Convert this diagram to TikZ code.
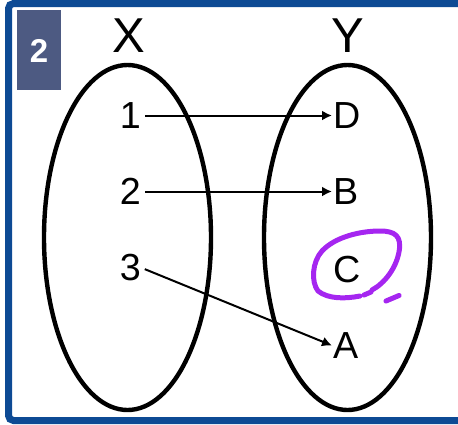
\documentclass[tikz,border=0pt]{standalone}
\usepackage{fontspec}
\setmainfont{Liberation Sans}
\usepackage{tikz}
\usetikzlibrary{arrows.meta}
\definecolor{framebl}{HTML}{0D4A94}
\definecolor{tagslate}{HTML}{4D5A82}
\definecolor{penpurple}{HTML}{A526F0}

\begin{document}
\begin{tikzpicture}[x=1pt,y=-1pt,
    setname/.style={font=\fontsize{49}{49}\selectfont,inner sep=0pt},
    elem/.style={font=\fontsize{37.7}{38}\selectfont,inner sep=1pt},
    mapto/.style={-{Latex[length=10pt,width=10pt]},line width=2pt,shorten <=3pt},
    setring/.style={line width=4.4pt}]
  \useasboundingbox (0,0) rectangle (458,424);
  % frame of the slide, running off at the right
  \draw[framebl,line width=7pt,rounded corners=5pt] (480,3.5) -- (8.5,3.5) -- (8.5,420.5) -- (480,420.5);
  \fill[tagslate] (17,10) rectangle (61,90);
  \node[white,font=\fontsize{33}{33}\bfseries,inner sep=0pt] (tag) at (39,51) {2};
  % the two sets
  \draw[setring] (127.5,237.5) ellipse [x radius=83.5, y radius=172.5];
  \draw[setring] (347.5,237.5) ellipse [x radius=83.5, y radius=172.5];
  \node[setname] (setX) at (129,35.5) {X};
  \node[setname] (setY) at (347.5,35.5) {Y};
  % elements of X
  \node[elem,anchor=east] (x1) at (142,115.5) {1};
  \node[elem,anchor=east] (x2) at (142,191.5) {2};
  \node[elem,anchor=east] (x3) at (142,268) {3};
  % elements of Y
  \node[elem,anchor=west] (yD) at (332,115.5) {D};
  \node[elem,anchor=west] (yB) at (332,191.5) {B};
  \node[elem,anchor=west] (yC) at (332,269.5) {C};
  \node[elem,anchor=west] (yA) at (332,345.5) {A};
  \draw[mapto] (x1.east) -- (yD.west);
  \draw[mapto] (x2.east) -- (yB.west);
  \draw[mapto] (x3.east) -- (yA.west);
  % hand-drawn ring round C
  \draw[penpurple,line width=5pt,line cap=round,line join=round]
    (360,296) .. controls (345,299) and (328,299) .. (318,291)
    .. controls (311,282) and (312,262) .. (322,251)
    .. controls (335,237) and (360,231) .. (380,231)
    .. controls (395,231) and (402,236) .. (399,252)
    .. controls (396,268) and (385,283) .. (372,290);
  \draw[penpurple,line width=5pt,line cap=round] (364,295) -- (371,292);
  \draw[penpurple,line width=5pt,line cap=round] (386,301) -- (399,295.5);
\end{tikzpicture}
\end{document}
